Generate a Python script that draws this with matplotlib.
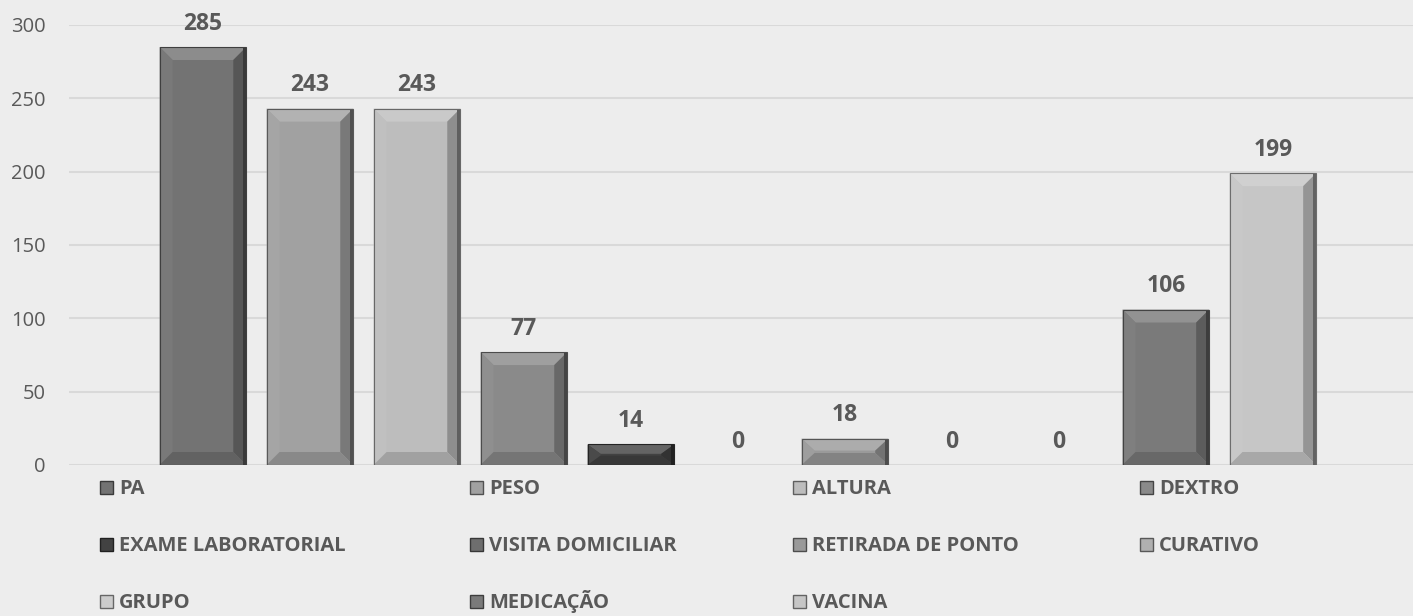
import numpy as np
import matplotlib
matplotlib.use("Agg")
import matplotlib.pyplot as plt
from matplotlib.patches import Polygon, Rectangle
from matplotlib.colors import to_rgb

plt.rcParams['font.family'] = ['Open Sans', 'DejaVu Sans']

series = ["PA", "PESO", "ALTURA", "DEXTRO", "EXAME LABORATORIAL",
          "VISITA DOMICILIAR", "RETIRADA DE PONTO", "CURATIVO",
          "GRUPO", "MEDICAÇÃO", "VACINA"]
values = [285, 243, 243, 77, 14, 0, 18, 0, 0, 106, 199]
colors = ["#737373", "#a1a1a1", "#bdbdbd", "#8a8a8a", "#424242",
          "#6e6e6e", "#9a9a9a", "#b0b0b0", "#cccccc", "#7a7a7a", "#c6c6c6"]

BG = "#ededed"
TXT = "#595959"
W, H = 1413, 616


def shade(c, f):
    r = np.array(to_rgb(c))
    if f > 0:
        return tuple(r + (1 - r) * f)
    return tuple(r * (1 + f))


def bevel(ax, rect, color, px=13):
    # bevel size given in pixels, turned into data units
    x0, w, h = rect.get_x(), rect.get_width(), rect.get_height()
    if h <= 0:
        return
    inv = ax.transData.inverted()
    p0 = inv.transform((0, 0))
    p1 = inv.transform((px, px))
    dx, dy = p1[0] - p0[0], p1[1] - p0[1]
    dy = min(dy, h / 2.2)
    x1 = x0 + w
    top, bot = h, 0
    polys = [
        ([(x0, top), (x1, top), (x1 - dx, top - dy), (x0 + dx, top - dy)], shade(color, 0.18)),
        ([(x0, bot), (x0, top), (x0 + dx, top - dy), (x0 + dx, bot + dy)], shade(color, 0.04)),
        ([(x1, bot), (x1, top), (x1 - dx, top - dy), (x1 - dx, bot + dy)], shade(color, -0.25)),
        ([(x0, bot), (x1, bot), (x1 - dx, bot + dy), (x0 + dx, bot + dy)], shade(color, -0.15)),
    ]
    for pts, c in polys:
        ax.add_patch(Polygon(pts, closed=True, facecolor=c, edgecolor='none', zorder=3))
    # thin dark rim on the right edge
    ax.add_patch(Rectangle((x1 - dx * 0.25, 0), dx * 0.25, h, facecolor=shade(color, -0.5),
                           edgecolor='none', zorder=3))
    ax.add_patch(Rectangle((x0, 0), w, h, fill=False, edgecolor=shade(color, -0.45),
                           lw=0.8, zorder=4))


fig = plt.figure(figsize=(W / 100, H / 100), dpi=100, facecolor=BG)
ax = fig.add_axes([69 / W, 151 / H, 1344 / W, 440 / H])
ax.set_facecolor(BG)

x = np.arange(len(values))
ax.set_xlim(-1.252, 11.31)
ax.set_ylim(0, 300)
bars = ax.bar(x, values, width=0.81, color=colors, zorder=2)

ax.set_yticks([0, 50, 100, 150, 200, 250, 300])
ax.grid(axis='y', color='#d9d9d9', lw=1.5, zorder=0)
ax.set_axisbelow(True)
ax.tick_params(axis='y', length=0, pad=17, labelsize=14.5, labelcolor=TXT)
ax.tick_params(axis='x', length=0, labelbottom=False)
for s in ax.spines.values():
    s.set_visible(False)

fig.canvas.draw()
for r, c in zip(bars, colors):
    bevel(ax, r, c)

for xi, v in zip(x, values):
    ax.annotate(str(v), (xi, v), xytext=(0, 8), textcoords='offset points',
                ha='center', va='bottom', fontsize=16.5, fontweight='bold', color=TXT)

# legend laid out by hand, row by row, 4 columns
col_x = [100, 470, 793, 1140]
row_y = [487, 544, 601]
sq = 13
for k, (name, c) in enumerate(zip(series, colors)):
    cx = col_x[k % 4]
    cy = row_y[k // 4]
    fig.patches.append(Rectangle((cx / W, (H - cy - sq / 2) / H), sq / W, sq / H,
                                 transform=fig.transFigure, facecolor=c,
                                 edgecolor=shade(c, -0.5), lw=1.0))
    fig.text((cx + sq + 6) / W, (H - cy - 7) / H, name, ha='left', va='baseline',
             fontsize=14.5, fontweight='bold', color=TXT)

fig.savefig("out.png", dpi=100, facecolor=BG)
